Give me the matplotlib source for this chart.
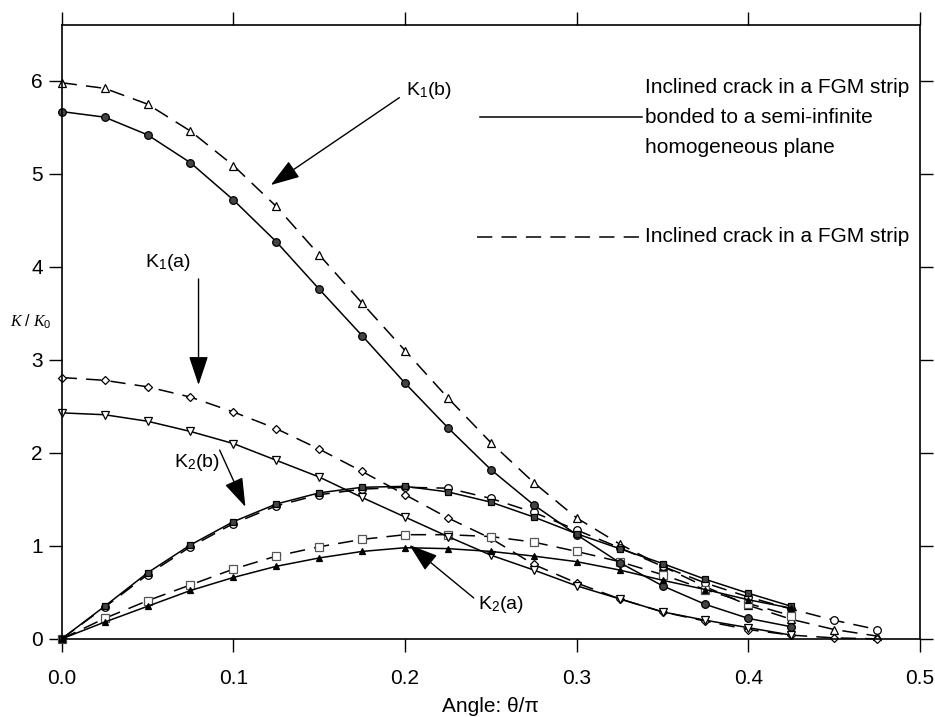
import matplotlib
matplotlib.use("Agg")
import matplotlib.pyplot as plt

plt.rcParams['font.family'] = ['Liberation Sans', 'DejaVu Sans']
plt.rcParams['mathtext.fontset'] = 'custom'
plt.rcParams['mathtext.rm'] = 'Liberation Sans'
plt.rcParams['mathtext.it'] = 'Liberation Serif:italic'

# crack angle theta/pi
theta = [0.0, 0.025, 0.05, 0.075, 0.1, 0.125, 0.15, 0.175, 0.2, 0.225,
         0.25, 0.275, 0.3, 0.325, 0.35, 0.375, 0.4, 0.425, 0.45, 0.475]

# FGM strip bonded to a semi-infinite homogeneous plane (solid lines)
k1b_bonded = [5.67, 5.61, 5.42, 5.12, 4.72, 4.27, 3.76, 3.26, 2.75, 2.27,
              1.82, 1.44, 1.12, 0.82, 0.57, 0.37, 0.22, 0.13]
k1a_bonded = [2.43, 2.41, 2.34, 2.23, 2.10, 1.92, 1.74, 1.52, 1.31, 1.10,
              0.90, 0.74, 0.57, 0.43, 0.29, 0.20, 0.12, 0.04]
k2b_bonded = [0.0, 0.35, 0.71, 1.01, 1.26, 1.45, 1.57, 1.63, 1.64, 1.58,
              1.47, 1.31, 1.13, 0.97, 0.81, 0.64, 0.49, 0.35]
k2a_bonded = [0.0, 0.18, 0.35, 0.52, 0.66, 0.78, 0.87, 0.94, 0.98, 0.97,
              0.94, 0.89, 0.83, 0.74, 0.63, 0.53, 0.42, 0.33]

# FGM strip alone (dashed lines)
k1b_strip = [5.98, 5.92, 5.75, 5.46, 5.09, 4.65, 4.13, 3.61, 3.10, 2.59,
             2.11, 1.68, 1.30, 1.02, 0.78, 0.56, 0.36, 0.21, 0.10, 0.03]
k1a_strip = [2.81, 2.78, 2.71, 2.60, 2.44, 2.26, 2.04, 1.80, 1.55, 1.30,
             1.08, 0.80, 0.60, 0.43, 0.29, 0.19, 0.10, 0.04, 0.01, 0.0]
k2b_strip = [0.0, 0.34, 0.69, 0.99, 1.24, 1.43, 1.55, 1.61, 1.63, 1.62,
             1.51, 1.36, 1.17, 0.98, 0.78, 0.60, 0.45, 0.32, 0.20, 0.10]
k2a_strip = [0.0, 0.22, 0.41, 0.58, 0.75, 0.89, 0.99, 1.07, 1.12, 1.12,
             1.10, 1.04, 0.94, 0.83, 0.69, 0.53, 0.38, 0.25]

xticks = [0.0, 0.1, 0.2, 0.3, 0.4, 0.5]
xtick_labels = ["0.0", "0.1", "0.2", "0.3", "0.4", "0.5"]
yticks = [0, 1, 2, 3, 4, 5, 6]

legend_bonded = "Inclined crack in a FGM strip\nbonded to a semi-infinite\nhomogeneous plane"
legend_strip = "Inclined crack in a FGM strip"

fig = plt.figure(figsize=(9.35, 7.17), dpi=100)
ax = fig.add_axes([0.066, 0.109, 0.918, 0.856])

dash = (0, (10, 6))
lw = 1.1

def curve(y, style, marker, ms, face, edge="black"):
    n = len(y)
    ax.plot(theta[:n], y, color="black", lw=lw, linestyle=style,
            marker=marker, ms=ms, mfc=face, mec=edge, mew=0.9, clip_on=False)

# dashed: strip alone
curve(k1b_strip, dash, "^", 5.5, "white")
curve(k1a_strip, dash, "D", 4.5, "white")
curve(k2b_strip, dash, "o", 5.5, "white")
curve(k2a_strip, dash, "s", 5.5, "white", edge="#555555")

# solid: bonded strip
curve(k1b_bonded, "-", "o", 5.5, "#444444")
curve(k1a_bonded, "-", "v", 6.0, "white")
curve(k2b_bonded, "-", "s", 5.0, "#444444")
curve(k2a_bonded, "-", "^", 4.5, "black")

ax.set_xlim(0, 0.5)
ax.set_ylim(0, 6.6)
ax.set_xticks(xticks)
ax.set_xticklabels(xtick_labels)
ax.set_yticks(yticks)
ax.tick_params(direction="out", length=9.5, width=1, labelsize=15,
               top=True, right=True, labeltop=False, labelright=False)
ax.tick_params(axis="x", pad=12)
ax.tick_params(axis="y", pad=4)
for s in ax.spines.values():
    s.set_linewidth(1.2)

ax.set_xlabel("Angle: θ/π", fontsize=15, labelpad=7)
ax.text(-0.036, 0.516, r"$K\ /\ K_0$", transform=ax.transAxes,
        ha="center", va="center", fontsize=11.5)

# legend drawn by hand: line sample beside the middle text row
tx = 0.6796
for i, row in enumerate(legend_bonded.split("\n")):
    ax.text(tx, 0.899 - 0.049 * i, row, transform=ax.transAxes,
            ha="left", va="center", fontsize=15)
ax.plot([0.4874, 0.676], [0.850, 0.850], transform=ax.transAxes,
        color="black", lw=lw)
ax.text(tx, 0.655, legend_strip, transform=ax.transAxes,
        ha="left", va="center", fontsize=15)
ax.plot([0.484, 0.676], [0.655, 0.655], transform=ax.transAxes,
        color="black", lw=lw, linestyle=dash)

# curve labels with arrows
arrow = dict(arrowstyle="-|>,head_length=0.9,head_width=0.3",
             color="black", lw=1.0, mutation_scale=20,
             shrinkA=0, shrinkB=0)
labels = [
    ("K$_1$(b)", (0.214, 5.90), (0.1967, 5.82), (0.1218, 4.88)),
    ("K$_1$(a)", (0.0616, 4.05), (0.0797, 3.87), (0.0797, 2.73)),
    ("K$_2$(b)", (0.0786, 1.90), (0.092, 2.03), (0.107, 1.42)),
    ("K$_2$(a)", (0.256, 0.366), (0.240, 0.44), (0.2025, 1.01)),
]
for text, pos, tail, tip in labels:
    ax.text(pos[0], pos[1], text, ha="center", va="center", fontsize=14)
    ax.annotate("", xy=tip, xytext=tail, arrowprops=arrow)

fig.savefig("out.png", dpi=100)
